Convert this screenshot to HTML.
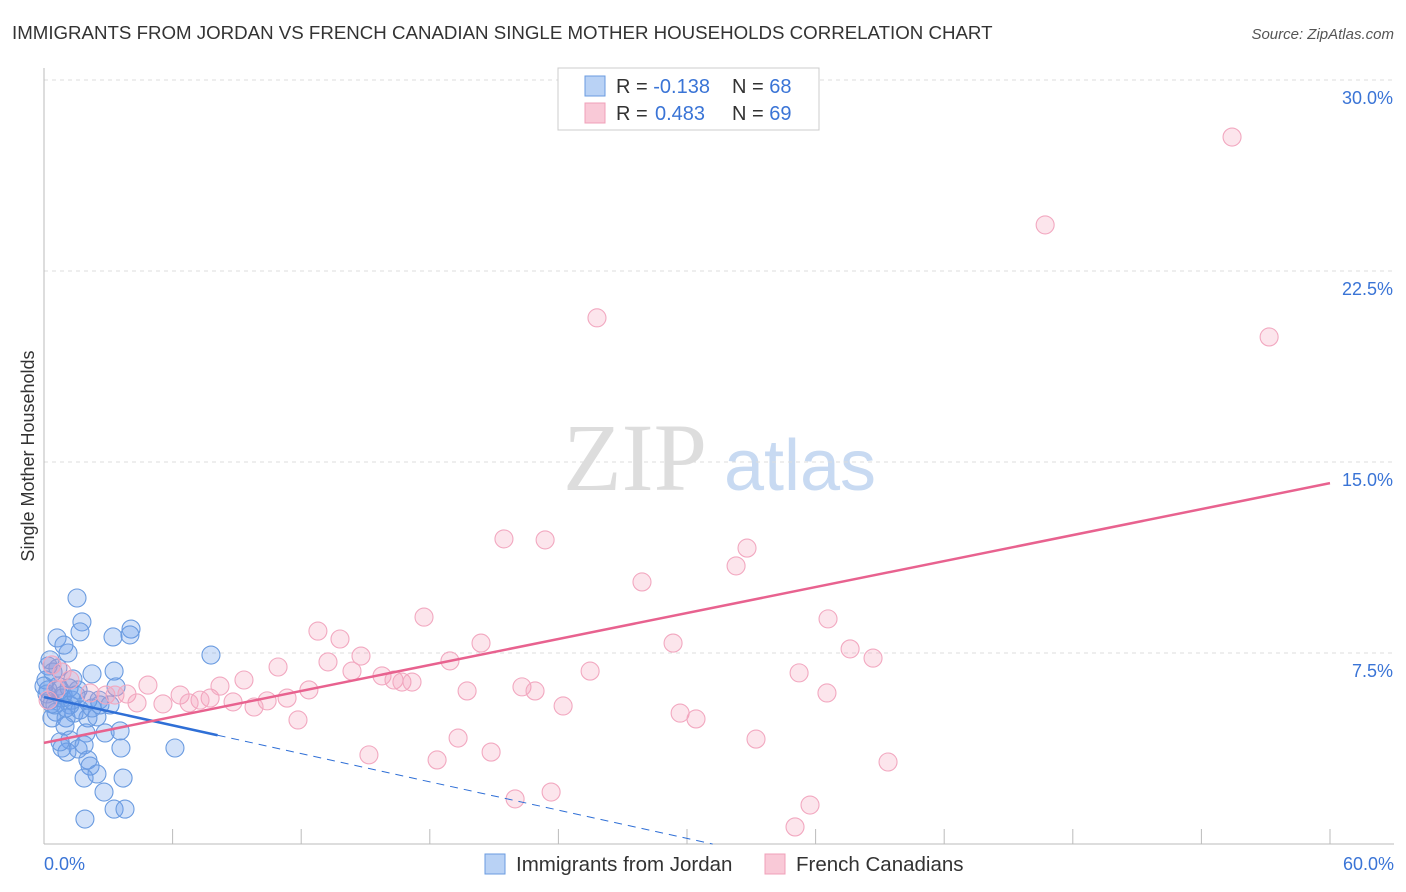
<!DOCTYPE html>
<html><head><meta charset="utf-8"><style>
body{margin:0;background:#fff;font-family:"Liberation Sans",sans-serif;}
svg{display:block}
</style></head><body>
<svg id="chart" width="1406" height="892">
<text x="12" y="39" font-size="18.7" fill="#333">IMMIGRANTS FROM JORDAN VS FRENCH CANADIAN SINGLE MOTHER HOUSEHOLDS CORRELATION CHART</text>
<text x="1394" y="39" font-size="15" fill="#555" text-anchor="end" font-style="italic">Source: ZipAtlas.com</text>
<text transform="translate(34,456) rotate(-90)" font-size="18" fill="#333" text-anchor="middle">Single Mother Households</text>
<g><text x="635" y="490" font-size="96" fill="#ddd" font-family="Liberation Serif,serif" text-anchor="middle">ZIP</text><text x="800" y="490" font-size="72" fill="#c8daf2" text-anchor="middle">atlas</text></g>
<g id="grid"></g><g id="axes"></g><g id="pts"></g><g id="lines"></g>
<g>
<rect x="558" y="68" width="261" height="62" fill="#fff" stroke="#ccc"/>
<rect x="585" y="76" width="20" height="20" fill="#b9d2f5" stroke="#6a9be0"/>
<rect x="585" y="103" width="20" height="20" fill="#f9c9d7" stroke="#f0a0b8"/>
<text x="616" y="93" font-size="20" fill="#333">R = <tspan fill="#3a74d6">-0.138</tspan><tspan x="732">N = </tspan><tspan fill="#3a74d6">68</tspan></text>
<text x="616" y="120" font-size="20" fill="#333">R = <tspan fill="#3a74d6" x="655">0.483</tspan><tspan x="732">N = </tspan><tspan fill="#3a74d6">69</tspan></text>
</g>
<g>
<rect x="485" y="854" width="20" height="20" fill="#b9d2f5" stroke="#6a9be0"/>
<text x="516" y="871" font-size="20.5" fill="#333">Immigrants from Jordan</text>
<rect x="765" y="854" width="20" height="20" fill="#f9c9d7" stroke="#f0a0b8"/>
<text x="796" y="871" font-size="20.5" fill="#333">French Canadians</text>
</g>
</svg>
<script>
const yTicks=[7.5,15,22.5,30];
const yTickLabels=["7.5%","15.0%","22.5%","30.0%"];
const xTicks=[0,6,12,18,24,30,36,42,48,54,60];
const blueX=[1.54,1.77,1.68,0.61,4.06,4.01,3.22,7.79,1.12,0.93,2.24,3.27,1.35,0.19,0.42,0.75,0.19,0.28,0.84,1.21,1.59,2.57,3.36,0.56,0.37,1.03,1.40,2.05,2.47,0.98,2.85,3.55,1.96,1.21,0.84,1.07,1.59,1.87,0.75,3.59,2.05,2.15,2.47,1.87,3.69,2.80,3.27,3.78,1.91,6.11,0.09,0.14,0.51,0.65,1.31,1.68,2.24,0.89,1.17,1.49,0.37,0.0,2.61,3.08,0.65,1.03,0.28,2.05];
const blueY=[9.66,8.72,8.33,8.09,8.44,8.21,8.13,7.42,7.50,7.81,6.68,6.79,6.48,6.99,6.75,6.05,6.05,5.65,5.73,5.46,6.05,5.65,6.17,5.18,4.95,4.95,5.14,4.95,4.99,4.63,4.36,4.44,4.36,4.08,3.77,3.61,3.73,3.89,4.01,3.77,3.30,3.06,2.75,2.59,2.59,2.04,1.37,1.37,0.98,3.77,6.44,5.89,5.46,6.20,5.65,5.26,5.34,5.85,6.13,5.85,5.50,6.20,5.46,5.46,6.91,5.34,7.23,5.65];
const pinkX=[55.43,46.71,25.80,57.16,21.46,23.38,32.80,32.29,27.90,17.73,36.58,12.78,13.81,20.39,29.35,37.61,14.79,38.68,13.25,18.94,10.92,25.48,14.37,35.23,15.77,16.33,16.70,17.17,9.33,4.85,22.30,22.91,19.74,12.36,36.53,6.35,3.87,2.89,7.75,7.28,10.41,11.34,8.82,9.80,5.55,6.77,4.34,8.21,24.22,29.68,30.42,11.85,19.32,33.22,20.86,15.16,18.34,39.38,23.66,21.98,35.74,35.04,0.37,0.84,1.21,2.15,3.31,0.56,0.19];
const pinkY=[27.76,24.31,20.66,19.91,11.98,11.94,11.62,10.92,10.29,8.91,8.84,8.36,8.05,7.89,7.89,7.66,7.38,7.30,7.15,7.19,6.95,6.79,6.79,6.72,6.60,6.44,6.36,6.36,6.44,6.24,6.17,6.01,6.01,6.05,5.93,5.85,5.89,5.85,5.73,5.65,5.62,5.73,5.58,5.38,5.50,5.54,5.54,6.20,5.42,5.14,4.91,4.87,4.16,4.12,3.61,3.50,3.30,3.22,2.04,1.77,1.53,0.67,7.03,6.75,6.44,5.93,5.85,6.05,5.65];
const blueTrend=[5.77,-0.185];
const pinkTrend=[3.97,0.17];
const NS="http://www.w3.org/2000/svg";
const X=v=>44+v/60*1286;
const Y=v=>844-v/7.5*191;
function mk(tag,attrs,parent){const e=document.createElementNS(NS,tag);for(const k in attrs)e.setAttribute(k,attrs[k]);document.getElementById(parent).appendChild(e);return e;}
yTicks.forEach((t,i)=>{
 const l=mk('line',{x1:44,x2:1394,y1:Y(t),y2:Y(t),stroke:'#ddd','stroke-dasharray':'4,4'},'grid');
 
 
 const tx=mk('text',{x:1393,y:Y(t)+24,'font-size':18,fill:'#3a74d6','text-anchor':'end'},'axes');
 tx.textContent=yTickLabels[i];
 
 
});
mk('line',{x1:44,x2:44,y1:68,y2:844,stroke:'#bbb'},'axes');
mk('line',{x1:44,x2:1394,y1:844,y2:844,stroke:'#bbb'},'axes');
xTicks.forEach(t=>{const l=mk('line',{x1:X(t),x2:X(t),y1:829,y2:844,stroke:'#bbb'},'axes');
 
 });
let a=mk('text',{x:44,y:870,'font-size':18,fill:'#3a74d6'},'axes');a.textContent='0.0%';


a=mk('text',{x:1394,y:870,'font-size':18,fill:'#3a74d6','text-anchor':'end'},'axes');a.textContent='60.0%';


blueX.forEach((x,i)=>{const c=mk('circle',{cx:X(x),cy:Y(blueY[i]),r:9,fill:'rgba(110,160,235,0.3)',stroke:'#6a9be0','stroke-width':1.1},'pts');
 
 });
pinkX.forEach((x,i)=>{const c=mk('circle',{cx:X(x),cy:Y(pinkY[i]),r:9,fill:'rgba(245,150,180,0.25)',stroke:'#f2a8c0','stroke-width':1.1},'pts');
 
 });
const bx1=8.1,bx2=31.2;
let ln=mk('line',{x1:X(0),y1:Y(blueTrend[0]),x2:X(bx1),y2:Y(blueTrend[0]+blueTrend[1]*bx1),stroke:'#2f6fd6','stroke-width':2.5},'lines');


ln=mk('line',{x1:X(bx1),y1:Y(blueTrend[0]+blueTrend[1]*bx1),x2:X(bx2),y2:Y(blueTrend[0]+blueTrend[1]*bx2),stroke:'#2f6fd6','stroke-width':1,'stroke-dasharray':'8,6'},'lines');


ln=mk('line',{x1:X(0),y1:Y(pinkTrend[0]),x2:X(60),y2:Y(pinkTrend[0]+pinkTrend[1]*60),stroke:'#e8628f','stroke-width':2.5},'lines');


</script>
</body></html>
